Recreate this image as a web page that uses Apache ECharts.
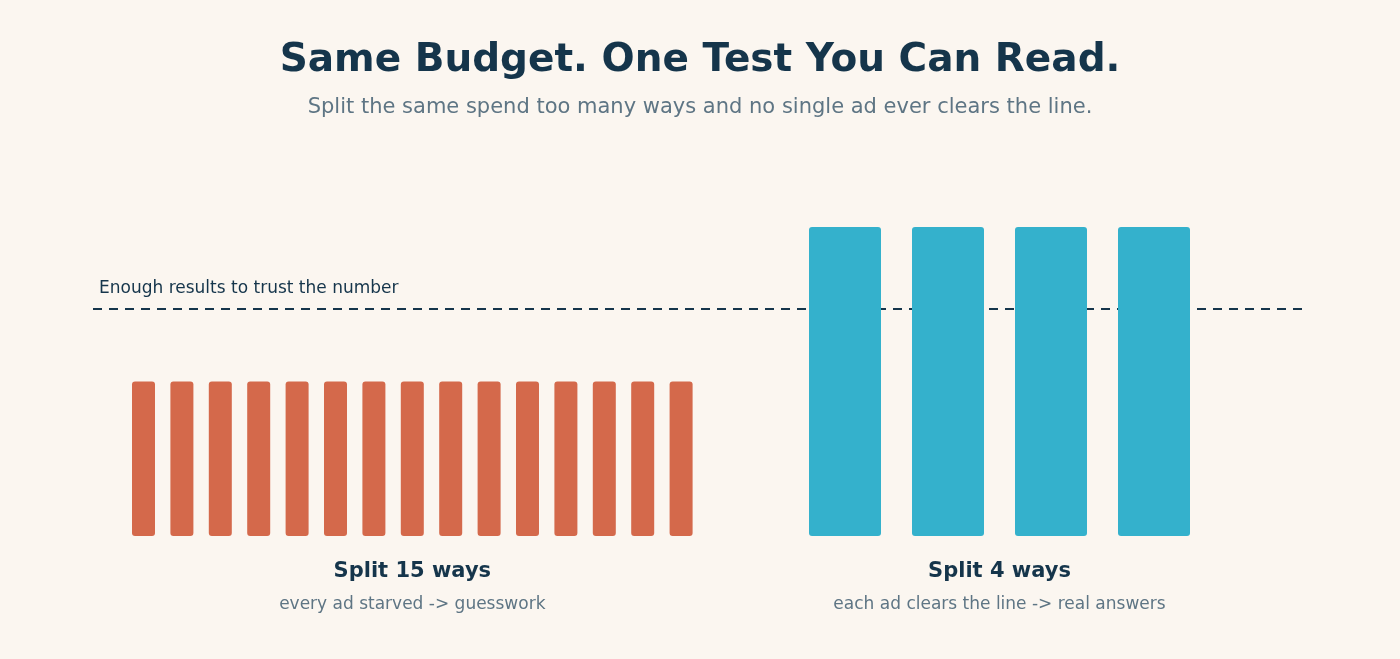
<!DOCTYPE html>
<html>
<head>
<meta charset="utf-8">
<script src="https://cdn.jsdelivr.net/npm/echarts@6/dist/echarts.min.js"></script>
<style>
  html, body { margin: 0; padding: 0; background: #fbf6f0; }
  #chart { width: 1400px; height: 659px; }
</style>
</head>
<body>
<div id="chart"></div>
<script>
// data
var manyAds = ['Ad 1','Ad 2','Ad 3','Ad 4','Ad 5','Ad 6','Ad 7','Ad 8','Ad 9','Ad 10','Ad 11','Ad 12','Ad 13','Ad 14','Ad 15'];
var manyResults = [50, 50, 50, 50, 50, 50, 50, 50, 50, 50, 50, 50, 50, 50, 50];
var fewAds = ['Ad 1','Ad 2','Ad 3','Ad 4'];
var fewResults = [100, 100, 100, 100];
var trustLine = 73.5;
var trustLabel = 'Enough results to trust the number';
var yMax = 100;

var FONT = '"DejaVu Sans", "Liberation Sans", Arial, sans-serif';
var NAVY = '#15354b', GREY = '#5e7584';

function groupAxis(idx, cats, title, note) {
    return {
        type: 'category', gridIndex: idx, data: cats,
        axisLine: {show: false}, axisTick: {show: false}, axisLabel: {show: false},
        name: '{a|' + title + '}\n{b|' + note + '}',
        nameLocation: 'middle', nameGap: 20,
        nameTextStyle: {
            fontFamily: FONT,
            rich: {
                a: {fontSize: 21, fontWeight: 'bold', color: NAVY, lineHeight: 32, fontFamily: FONT},
                b: {fontSize: 17, color: GREY, lineHeight: 34, fontFamily: FONT}
            }
        }
    };
}
function valAxis(idx) {
    return {type: 'value', gridIndex: idx, min: 0, max: yMax, show: false};
}

var chart = echarts.init(document.getElementById('chart'));
chart.setOption({
    backgroundColor: '#fbf6f0',
    animation: false,
    title: {
        left: 'center', top: 30,
        text: 'Same Budget. One Test You Can Read.',
        subtext: 'Split the same spend too many ways and no single ad ever clears the line.',
        itemGap: 9,
        textStyle: {fontFamily: FONT, fontSize: 39, fontWeight: 'bold', color: NAVY, lineHeight: 52},
        subtextStyle: {fontFamily: FONT, fontSize: 21, color: GREY, lineHeight: 24}
    },
    grid: [
        {left: 124.3, width: 576, top: 227, bottom: 123},
        {left: 793.5, width: 412, top: 227, bottom: 123},
        {left: 93, right: 95, top: 227, bottom: 123}
    ],
    xAxis: [
        groupAxis(0, manyAds, 'Split 15 ways', 'every ad starved -> guesswork'),
        groupAxis(1, fewAds, 'Split 4 ways', 'each ad clears the line -> real answers'),
        {type: 'value', gridIndex: 2, min: 0, max: 1, show: false}
    ],
    yAxis: [valAxis(0), valAxis(1), valAxis(2)],
    series: [
        {
            // threshold line, drawn behind the bars
            type: 'line', xAxisIndex: 2, yAxisIndex: 2, z: 1,
            data: [[0, trustLine], [1, trustLine]],
            symbol: 'none', silent: true,
            lineStyle: {color: NAVY, width: 2, type: [9, 7]},
            markPoint: {
                symbol: 'circle', symbolSize: 0, silent: true,
                data: [{coord: [0, trustLine], value: trustLabel}],
                label: {
                    show: true, position: 'right', distance: 0, offset: [6, -20],
                    formatter: '{c}', fontFamily: FONT, fontSize: 17, color: NAVY
                }
            }
        },
        {
            type: 'bar', xAxisIndex: 0, yAxisIndex: 0, z: 3,
            data: manyResults, barWidth: 23,
            itemStyle: {color: '#d4694b', borderRadius: 3}
        },
        {
            type: 'bar', xAxisIndex: 1, yAxisIndex: 1, z: 3,
            data: fewResults, barWidth: 72,
            itemStyle: {color: '#34b1cc', borderRadius: 3}
        }
    ]
});
</script>
</body>
</html>
